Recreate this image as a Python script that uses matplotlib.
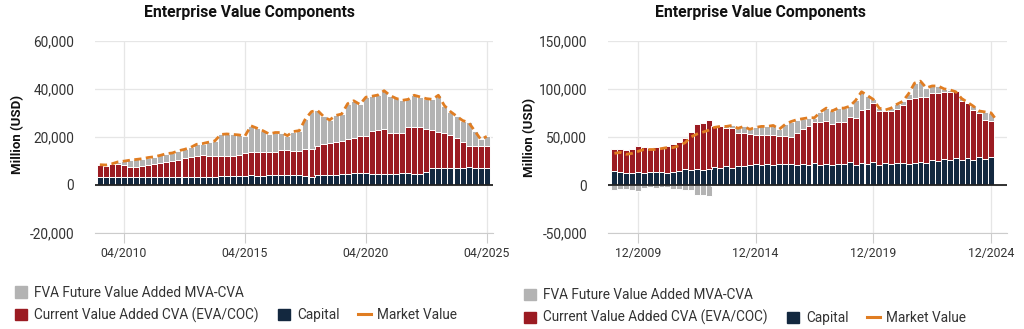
import matplotlib
matplotlib.use("Agg")
import matplotlib.pyplot as plt
import matplotlib.dates as mdates
from matplotlib.patches import Patch
from matplotlib.lines import Line2D
from matplotlib.ticker import FuncFormatter
import numpy as np
import pandas as pd

plt.rcParams['font.family'] = ['Roboto', 'DejaVu Sans']

# ---- left chart (quarterly, 04/2009 .. 04/2025), values in million USD ----
left_dates = pd.date_range('2009-04-01', periods=65, freq='3MS')
left_capital = [3.3, 3.3, 3.3, 3.3, 3.3, 3.3, 3.3, 3.3, 3.3, 3.3, 3.3, 3.3, 3.3, 3.3, 3.4, 3.4, 3.4,
                3.5, 3.5, 3.5, 3.6, 3.6, 3.6, 3.6, 3.6, 4.3, 3.8, 3.8, 4.1, 4.1, 4.1, 4.1, 4.1, 4.0,
                3.9, 3.4, 4.1, 4.2, 4.2, 4.3, 4.4, 4.7, 4.8, 4.8, 4.9, 4.7, 4.7, 4.7, 4.7, 4.7, 4.8,
                5.0, 4.7, 4.6, 5.5, 6.9, 7.0, 7.0, 7.0, 7.0, 7.0, 7.3, 7.2, 7.0, 7.0]
left_cva = [5.1, 4.6, 5.3, 5.3, 4.8, 4.2, 4.2, 4.6, 5.1, 5.6, 6.0, 6.3, 6.6, 7.0, 8.0, 8.3, 8.7,
            8.8, 8.4, 8.4, 8.3, 8.3, 8.5, 8.7, 9.6, 9.4, 10.1, 9.9, 9.6, 9.8, 10.4, 10.4, 10.1, 10.2,
            11.1, 11.6, 12.1, 12.7, 13.3, 13.7, 13.9, 14.3, 14.6, 15.4, 15.6, 17.8, 18.1, 18.5, 17.1,
            16.9, 16.8, 19.2, 19.5, 19.4, 17.8, 16.1, 15.0, 14.6, 13.6, 12.6, 11.0, 8.9, 9.0, 9.0, 9.3]
left_fva = [0.0, 0.4, 0.2, 1.0, 1.8, 2.8, 3.1, 3.0, 3.0, 2.8, 3.0, 3.4, 3.4, 3.9, 3.4, 3.9, 4.8,
            4.9, 5.9, 6.4, 9.1, 9.3, 8.9, 8.5, 7.1, 10.9, 9.7, 8.8, 7.5, 7.9, 7.3, 6.0, 8.0, 8.4,
            12.5, 15.5, 14.8, 11.6, 9.5, 10.9, 11.2, 14.8, 15.6, 13.3, 16.0, 14.4, 14.6, 16.0, 15.4,
            14.4, 13.6, 11.4, 13.1, 12.6, 12.6, 12.6, 15.3, 11.4, 9.9, 9.0, 8.8, 9.8, 6.3, 2.9, 3.9]
left_market = [8.4, 8.3, 8.8, 9.6, 9.9, 10.3, 10.6, 10.9, 11.4, 11.7, 12.3, 13.0, 13.3, 14.2, 14.8,
               15.6, 16.9, 17.2, 17.8, 18.3, 21.0, 21.2, 21.0, 20.8, 20.3, 24.6, 23.6, 22.5, 21.2,
               21.8, 21.8, 20.5, 22.2, 22.6, 27.5, 30.5, 31.0, 28.5, 27.0, 28.9, 29.5, 33.8, 35.0,
               33.5, 36.5, 36.9, 37.4, 39.2, 37.2, 36.0, 35.2, 35.6, 37.3, 36.6, 35.9, 35.6, 37.3,
               33.0, 30.5, 28.6, 26.8, 26.0, 22.5, 18.9, 20.2]
left_ticks = ['2010-04-01', '2015-04-01', '2020-04-01', '2025-04-01']
left_ticklabels = ['04/2010', '04/2015', '04/2020', '04/2025']

# ---- right chart (quarterly, 12/2008 .. 12/2024), values in million USD ----
right_dates = pd.date_range('2008-12-01', periods=65, freq='3MS')
right_market_dates = pd.date_range('2008-12-01', periods=66, freq='3MS')
right_capital = [15, 14, 13, 13, 14, 13, 14, 14, 14, 13, 14, 15, 17, 16, 17, 16, 17, 19, 18, 20,
                 18, 20, 20, 21, 22, 21, 22, 21, 22, 22, 22, 21, 22, 21, 23, 21, 22, 21, 22, 22,
                 24, 21, 23, 22, 24, 21, 23, 22, 23, 23, 22, 23, 24, 23, 26, 25, 27, 26, 28, 26,
                 28, 26, 29, 27, 29]
right_cva = [23, 24, 23, 25, 27, 27, 25, 26, 26, 28, 29, 30, 32, 39, 46, 49, 51, 42, 43, 39,
             41, 34, 34, 32, 30, 31, 30, 31, 29, 29, 28, 33, 36, 40, 43, 45, 45, 43, 44, 44,
             47, 49, 55, 57, 61, 56, 54, 55, 56, 60, 67, 67, 68, 69, 70, 71, 70, 71, 70, 61,
             57, 52, 46, 41, 38]
right_fva = [-5, -4, -4, -5, -6, -3, -2, -3, -2, -2, -4, -4, -5, -5, -10, -10, -11, -1, 0, 2,
             3, 5, 7, 5, 8, 9, 9, 10, 7, 12, 16, 14, 11, 9, 4, 10, 13, 13, 14, 14,
             11, 18, 19, 14, 4, 3, 1, 3, 5, 4, 6, 16, 16, 9, 7, 7, 3, 2, -1, 3,
             1, 4, 2, 8, 8]
right_market = [33, 34, 32, 33, 35, 37, 37, 37, 38, 39, 39, 41, 44, 50, 53, 55, 57, 60, 61, 61,
                62, 59, 61, 58, 60, 61, 61, 62, 58, 63, 66, 68, 69, 70, 70, 76, 80, 77, 80, 80,
                82, 88, 97, 93, 89, 80, 78, 80, 84, 87, 95, 106, 108, 101, 103, 103, 100, 99, 97, 90,
                86, 82, 77, 76, 75, 67]
right_ticks = ['2009-12-01', '2014-12-01', '2019-12-01', '2024-12-01']
right_ticklabels = ['12/2009', '12/2014', '12/2019', '12/2024']

C_FVA = '#b3b3b3'
C_CVA = '#9b1b22'
C_CAP = '#13283f'
C_MV = '#e07d22'
GRID = '#e6e6e6'
TXT = '#333333'


def draw(ax, dates, capital, cva, fva, mkt_dates, market, ticks, ticklabels, yticks, xpad):
    x = mdates.date2num(dates)
    cap = np.array(capital) * 1000
    cv = np.array(cva) * 1000
    fv = np.array(fva) * 1000
    mv = np.array(market) * 1000
    w = 91
    kw = dict(width=w, edgecolor='white', linewidth=0.7, zorder=2)
    ax.bar(x, cap, color=C_CAP, **kw)
    ax.bar(x, cv, bottom=cap, color=C_CVA, **kw)
    ax.bar(x, fv, bottom=np.where(fv >= 0, cap + cv, 0), color=C_FVA, **kw)
    ax.plot(mdates.date2num(mkt_dates), mv, color=C_MV, lw=2,
            linestyle=(0, (2.6, 1.6)), zorder=4)
    ax.axhline(0, color='#222222', lw=1.3, zorder=3)

    ax.set_yticks(yticks)
    ax.set_ylim(yticks[0], yticks[-1])
    ax.yaxis.set_major_formatter(FuncFormatter(lambda v, p: f'{v:,.0f}'))
    ax.set_xticks(mdates.date2num(pd.to_datetime(ticks)))
    ax.set_xticklabels(ticklabels)
    ax.set_xlim(x[0] - xpad[0], x[-1] + xpad[1])
    ax.grid(True, color=GRID, lw=0.9, zorder=0)
    ax.set_axisbelow(True)
    for s in ['top', 'right', 'left']:
        ax.spines[s].set_visible(False)
    ax.spines['bottom'].set_color('#cccccc')
    ax.tick_params(axis='y', length=0, pad=15, labelsize=9.8, labelcolor=TXT)
    ax.tick_params(axis='x', length=7, color='#cccccc', pad=3, labelsize=8.8, labelcolor=TXT)
    ax.set_ylabel('Million (USD)', fontsize=9.5, fontweight='bold', color='#111111')


fig = plt.figure(figsize=(10.24, 3.29), dpi=100)
ax1 = fig.add_axes([0.0928, 0.2918, 0.3887, 0.5845])
ax2 = fig.add_axes([0.5938, 0.2909, 0.3896, 0.5854])

draw(ax1, left_dates, left_capital, left_cva, left_fva, left_dates, left_market,
     left_ticks, left_ticklabels, [-20000, 0, 20000, 40000, 60000], (73, 95))
draw(ax2, right_dates, right_capital, right_cva, right_fva, right_market_dates, right_market,
     right_ticks, right_ticklabels, [-50000, 0, 50000, 100000, 150000], (99, 247))
ax1.yaxis.set_label_coords(-0.178, 0.51)
ax2.yaxis.set_label_coords(-0.18, 0.5)

fig.text(0.244, 0.963, 'Enterprise Value Components', ha='center', va='center',
         fontsize=11.3, fontweight='bold', color='#111111')
fig.text(0.743, 0.963, 'Enterprise Value Components', ha='center', va='center',
         fontsize=11.3, fontweight='bold', color='#111111')

h_fva = Patch(color=C_FVA, label='FVA Future Value Added MVA-CVA')
h_cva = Patch(color=C_CVA, label='Current Value Added CVA (EVA/COC)')
h_cap = Patch(color=C_CAP, label='Capital')
h_mv = Line2D([], [], color=C_MV, lw=2.2, label='Market Value')

leg_kw = dict(frameon=False, fontsize=9.8, labelcolor=TXT, borderpad=0, borderaxespad=0,
              handlelength=0.9, handleheight=0.9, handletextpad=0.5, columnspacing=1.4,
              loc='center left')
for x0, y1, y2 in [(15 / 1024, 1 - 292.7 / 329, 1 - 315 / 329),
                   (524 / 1024, 1 - 295 / 329, 1 - 317.7 / 329)]:
    fig.legend(handles=[h_fva], bbox_to_anchor=(x0, y1), ncol=1, **leg_kw)
    fig.legend(handles=[h_cva, h_cap, h_mv], bbox_to_anchor=(x0, y2), ncol=3, **leg_kw)

fig.savefig('out.png', dpi=100)
